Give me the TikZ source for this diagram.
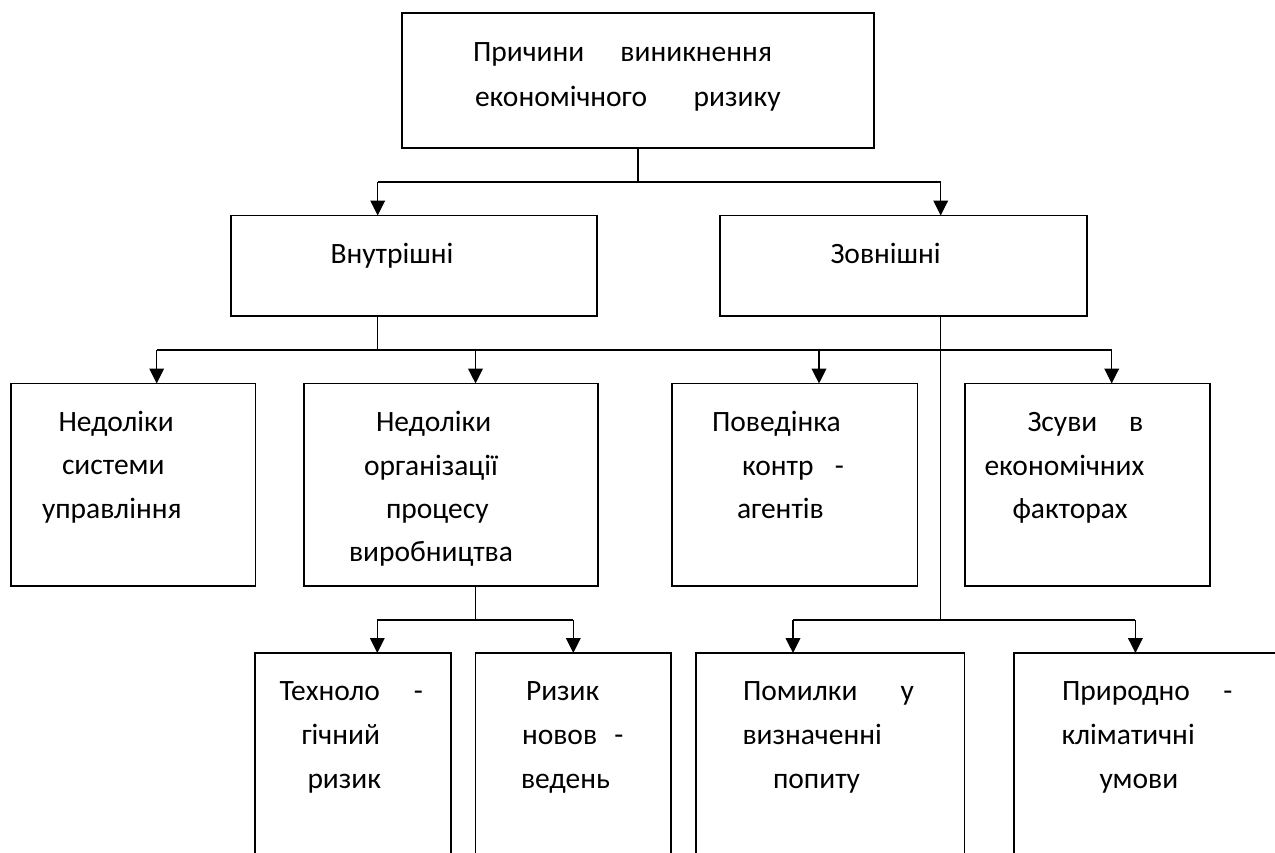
\documentclass[tikz,border=0pt]{standalone}
\usepackage{fontspec}
\setmainfont{Carlito}
\usetikzlibrary{arrows.meta}
\newlength\pxu
\setlength\pxu{0.5pt}
\tikzset{
  box/.style={draw, line width=0.8pt, rectangle, inner sep=0pt, outer sep=0pt, anchor=north west},
  txt/.style={anchor=base west, inner sep=0pt, outer sep=0pt, font=\fontsize{14.75pt}{17pt}\selectfont},
  conn/.style={line width=0.75pt},
  arr/.style={conn, -{Triangle[width=7.35pt,length=7.5pt]}}
}
\begin{document}
\begin{tikzpicture}[x=0.5pt,y=-0.5pt]
\useasboundingbox (0,0) rectangle (1275,852);
\clip (0,0) rectangle (1275,852);
% boxes
\node[box, minimum width=236pt, minimum height=67.5pt] (top) at (402,13) {};
\node[box, minimum width=183.15pt, minimum height=50.25pt] (vn) at (230.7,215.5) {};
\node[box, minimum width=183.5pt, minimum height=50.25pt] (zv) at (720,215.5) {};
\node[box, minimum width=122.25pt, minimum height=101.25pt] (b1) at (11,383.5) {};
\node[box, minimum width=147pt, minimum height=101.25pt] (b2) at (304,383.5) {};
\node[box, minimum width=122.75pt, minimum height=101.25pt] (b3) at (672,383.5) {};
\node[box, minimum width=122.5pt, minimum height=101.25pt] (b4) at (965,383.5) {};
\node[box, minimum width=98pt, minimum height=150pt] (c1) at (255,653) {};
\node[box, minimum width=97.85pt, minimum height=150pt] (c2) at (475.3,653) {};
\node[box, minimum width=134.3pt, minimum height=150pt] (c3) at (696,653) {};
\node[box, minimum width=150pt, minimum height=150pt] (c4) at (1014,653) {};
% bus coordinates
\coordinate (h1l) at (377.7,182);
\coordinate (h1r) at (940.7,182);
\coordinate (h2l) at (156.7,350);
\coordinate (h2a) at (377.7,350);
\coordinate (h2b) at (475.5,350);
\coordinate (h2c) at (819,350);
\coordinate (h2r) at (1111.7,350);
\coordinate (h3l) at (377.3,620);
\coordinate (h3m) at (475.5,620);
\coordinate (h3r) at (573.3,620);
\coordinate (h4l) at (793,620);
\coordinate (h4m) at (940.7,620);
\coordinate (h4r) at (1135.4,620);
% connectors level 1
\draw[conn] (top.south) -- (top.south |- h1l);
\draw[conn] (h1l) -- (h1r);
\draw[arr] (h1l) -- (h1l |- vn.north);
\draw[arr] (h1r) -- (h1r |- zv.north);
% level 2
\draw[conn] (h2a |- vn.south) -- (h2a);
\draw[conn] (h2l) -- (h2r);
\draw[arr] (h2l) -- (h2l |- b1.north);
\draw[arr] (h2b) -- (h2b |- b2.north);
\draw[arr] (h2c) -- (h2c |- b3.north);
\draw[arr] (h2r) -- (h2r |- b4.north);
\draw[conn] (h4m |- zv.south) -- (h4m);
% level 3
\draw[conn] (h3m |- b2.south) -- (h3m);
\draw[conn] (h3l) -- (h3r);
\draw[arr] (h3l) -- (h3l |- c1.north);
\draw[arr] (h3r) -- (h3r |- c2.north);
\draw[conn] (h4l) -- (h4r);
\draw[arr] (h4l) -- (h4l |- c3.north);
\draw[arr] (h4r) -- (h4r |- c4.north);
% texts
\node[txt] (ta1) at (473,61.7) {\makebox[147.4\pxu][l]{Причини}виникнення};
\node[txt] (ta2) at (475,106.7) {\makebox[218.7\pxu][l]{економічного}ризику};
\node[txt] (tvn) at (330.5,263) {Внутрішні};
\node[txt] (tzv) at (830.5,263) {Зовнішні};
\node[txt] (t11) at (58.5,431.7) {Недоліки};
\node[txt] (t12) at (62,474) {системи};
\node[txt] (t13) at (42,518.3) {управління};
\node[txt] (t21) at (376,431.7) {Недоліки};
\node[txt] (t22) at (364,475) {організації};
\node[txt] (t23) at (386,518.3) {процесу};
\node[txt] (t24) at (349,561.6) {виробництва};
\node[txt] (t31) at (712,431.7) {Поведінка};
\node[txt] (t32) at (742,475) {\makebox[93\pxu][l]{контр}-};
\node[txt] (t33) at (737,518.3) {агентів};
\node[txt] (t41) at (1027.5,431.7) {\makebox[101.7\pxu][l]{Зсуви}в};
\node[txt] (t42) at (984.5,475) {економічних};
\node[txt] (t43) at (1012.5,518.3) {факторах};
\node[txt] (t51) at (279.5,700) {\makebox[134.3\pxu][l]{Техноло}-};
\node[txt] (t52) at (301.5,744.3) {гічний};
\node[txt] (t53) at (307.5,788.3) {ризик};
\node[txt] (t61) at (526,700) {Ризик};
\node[txt] (t62) at (522,744.3) {\makebox[92.3\pxu][l]{новов}-};
\node[txt] (t63) at (521,788.3) {ведень};
\node[txt] (t71) at (743,700) {\makebox[157.5\pxu][l]{Помилки}у};
\node[txt] (t72) at (742.5,744.3) {визначенні};
\node[txt] (t73) at (773,788.3) {попиту};
\node[txt] (t81) at (1062,700) {\makebox[161.3\pxu][l]{Природно}-};
\node[txt] (t82) at (1061.5,744.3) {кліматичні};
\node[txt] (t83) at (1099.5,788.3) {умови};
\end{tikzpicture}
\end{document}
